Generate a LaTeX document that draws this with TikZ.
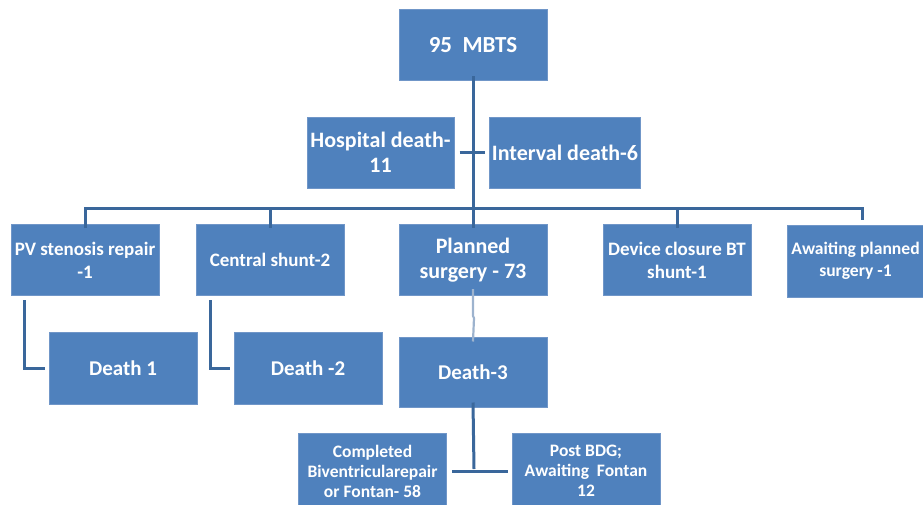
\documentclass[tikz,border=0pt]{standalone}
\usepackage{fontspec}
\setmainfont{Carlito}
\definecolor{boxfill}{HTML}{4F81BD}
\definecolor{boxline}{HTML}{7096C8}
\definecolor{conn}{HTML}{3A679B}
\definecolor{connlight}{HTML}{9DB3CE}
\begin{document}
\begin{tikzpicture}[x=1pt,y=-1pt,
  box/.style={rectangle,fill=boxfill,draw=boxline,line width=1pt,text=white,
    minimum width=148pt,minimum height=71pt,align=center,inner sep=2pt,
    font=\fontsize{21}{25}\selectfont\bfseries},
  bigbox/.style={box,font=\fontsize{22}{25}\selectfont\bfseries},
  smallbox/.style={box,font=\fontsize{19}{23}\selectfont\bfseries},
  tinybox/.style={box,font=\fontsize{17.5}{20}\selectfont\bfseries},
  link/.style={draw=conn,line width=3pt},
  lightlink/.style={draw=connlight,line width=2.2pt}]
\useasboundingbox (0,0) rectangle (923,504);
\clip (0,0) rectangle (923,504);
\node[box,font=\fontsize{23}{27}\selectfont\bfseries] (top) at (473,45) {95\ \ MBTS};
\node[bigbox,minimum width=147pt] (hosp) at (380.5,152.5) {Hospital death-\\11};
\node[bigbox,minimum width=146pt] (intv) at (565,152.5) {Interval death-6};
\node[smallbox] (pv) at (85,260) {PV stenosis repair\\-1};
\node[smallbox] (cs) at (270,260) {Central shunt-2};
\node[bigbox] (ps) at (473,260) {Planned\\surgery - 73};
\node[smallbox] (dc) at (677,260) {Device closure BT\\shunt-1};
\node[smallbox,minimum width=137pt,minimum height=72pt,inner sep=1pt,
  font=\fontsize{17.6}{22}\selectfont\bfseries] (aw) at (855.5,261) {Awaiting planned\\surgery -1};
\node[box,minimum height=72pt] (d1) at (123,368) {Death 1};
\node[box,minimum height=72pt] (d2) at (308,368) {Death -2};
\node[box,minimum height=70pt] (d3) at (473,372) {Death-3};
\node[tinybox,minimum height=76pt] (cb) at (372.5,471) {Completed\\Biventricularepair\\or Fontan- 58};
\node[tinybox,minimum height=76pt] (pb) at (586,471) {Post BDG;\\Awaiting\ \ Fontan\\12};
% trunk
\coordinate (bar) at (473,208);
\coordinate (barL) at (85,208);
\coordinate (barR) at (862,208);
\draw[link] ([yshift=5pt]top.south) -- (bar);
\draw[link] ([xshift=5pt]hosp.east) -- ([xshift=-4pt]intv.west);
\draw[link] ([yshift=-4pt]pv.north) -- (barL) -- (barR) -- (862,220);
\draw[link] (270,208) -- ([yshift=-4pt]cs.north);
\draw[link] (bar) -- ([yshift=-4pt]ps.north);
\draw[link] (677,208) -- ([yshift=-4pt]dc.north);
% side branches
\draw[link] (24,300) |- ([xshift=-4pt]d1.west);
\draw[link] (210,300) |- ([xshift=-4pt]d2.west);
\draw[lightlink] ([yshift=7pt]ps.south) -- (473,316) -- (474,318) -- ([yshift=-5pt]d3.north);
% bottom
\coordinate (fork) at (474,469);
\draw[link] ([yshift=5pt]d3.south) -- (fork);
\draw[link] ([xshift=5pt]cb.east) -- ([xshift=-4pt]pb.west);
\end{tikzpicture}
\end{document}
